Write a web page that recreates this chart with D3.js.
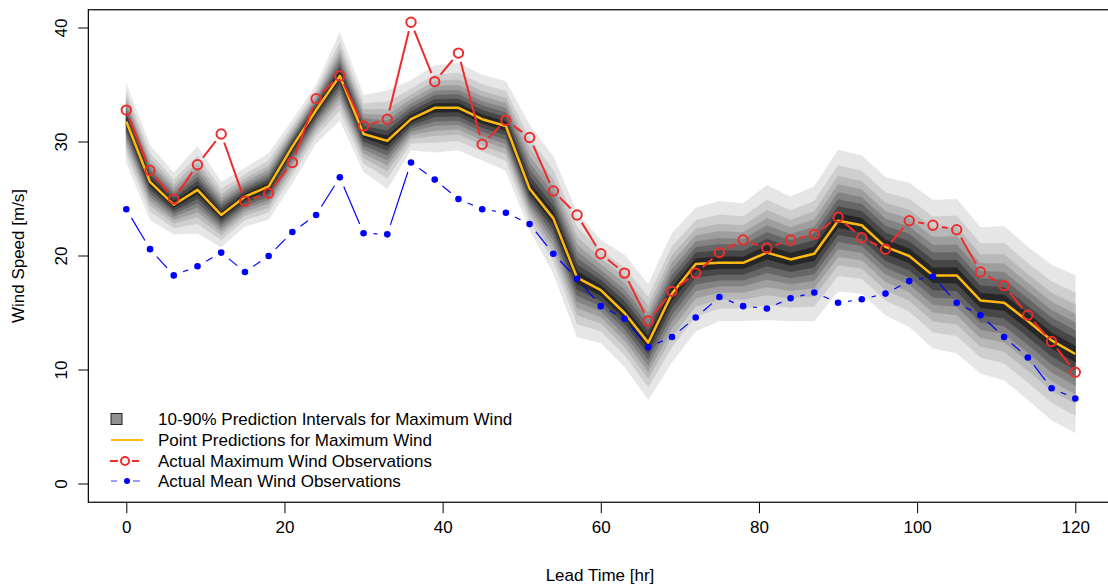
<!DOCTYPE html>
<html>
<head>
<meta charset="utf-8">
<script src="https://cdn.jsdelivr.net/npm/d3@7"></script>
<style>
    body { margin: 0; background: #fff; }
    text { font-family: "Liberation Sans", Arial, sans-serif; fill: #000; }
</style>
</head>
<body>
<svg id="chart" width="1108" height="588"></svg>
<script>
// Lead times [hr]
const leadTime = [0, 3, 6, 9, 12, 15, 18, 21, 24, 27, 30, 33, 36, 39, 42, 45, 48, 51, 54, 57,
    60, 63, 66, 69, 72, 75, 78, 81, 84, 87, 90, 93, 96, 99, 102, 105, 108, 111, 114, 117, 120];

// Point predictions for maximum wind (median)
const predMax = [31.8, 26.5, 24.5, 25.8, 23.6, 25.2, 26.1, 29.6, 32.8, 35.8, 30.7, 30.1, 32.0, 33.0,
    33.0, 32.0, 31.4, 25.9, 23.3, 18.1, 17.0, 15.0, 12.4, 16.7, 19.3, 19.4, 19.4, 20.3, 19.7, 20.2,
    23.1, 22.7, 20.8, 20.0, 18.3, 18.3, 16.1, 15.9, 14.3, 12.6, 11.4];

// 90% and 10% quantiles (outer edges of the shaded intervals)
const q90 = [35.1, 29.7, 27.3, 29.6, 26.5, 27.7, 29.0, 31.9, 35.0, 39.6, 34.1, 34.5, 35.4, 36.7,
    36.9, 35.9, 35.3, 31.5, 28.7, 23.8, 21.4, 20.1, 17.5, 22.0, 24.2, 24.8, 24.6, 26.2, 25.2, 26.1,
    29.3, 28.8, 26.9, 26.4, 24.9, 25.0, 22.5, 22.6, 20.8, 19.2, 18.3];
const q10 = [28.2, 23.2, 21.9, 22.0, 20.8, 22.6, 23.2, 26.4, 29.9, 31.9, 27.4, 25.9, 29.3, 29.1,
    29.3, 28.4, 27.5, 22.3, 18.5, 12.9, 12.4, 10.3, 7.4, 10.7, 13.4, 14.3, 14.3, 14.4, 14.3, 14.3,
    16.9, 16.7, 14.8, 13.8, 11.9, 11.5, 9.7, 9.1, 7.4, 5.6, 4.5];

// Relative width of each nested band (outer 10-90 ... inner 45-55) and its grey
const bandWidth = [1, 0.78, 0.63, 0.51, 0.40, 0.30, 0.20, 0.10];
const bandGrey = ['#e6e6e6', '#cfcfcf', '#b8b8b8', '#9e9e9e', '#838383', '#666666', '#474747', '#262626'];

// Observations
const maxObs = [32.8, 27.5, 25.0, 28.0, 30.7, 24.8, 25.5, 28.2, 33.8, 35.8, 31.4, 32.0, 40.5, 35.3,
    37.8, 29.8, 31.9, 30.4, 25.7, 23.6, 20.2, 18.5, 14.3, 16.9, 18.5, 20.3, 21.4, 20.7, 21.4, 21.9,
    23.4, 21.6, 20.6, 23.1, 22.7, 22.3, 18.6, 17.4, 14.8, 12.5, 9.8];
const meanObs = [24.1, 20.6, 18.3, 19.1, 20.3, 18.6, 20.0, 22.1, 23.6, 26.9, 22.0, 21.9, 28.2, 26.7,
    25.0, 24.1, 23.8, 22.8, 20.2, 18.0, 15.6, 14.5, 12.0, 12.9, 14.6, 16.4, 15.6, 15.4, 16.3, 16.8,
    15.9, 16.2, 16.7, 17.8, 18.2, 15.9, 14.8, 12.9, 11.1, 8.4, 7.5];

const xTicks = [0, 20, 40, 60, 80, 100, 120];
const yTicks = [0, 10, 20, 30, 40];
const legendLabels = ['10-90% Prediction Intervals for Maximum Wind', 'Point Predictions for Maximum Wind',
    'Actual Maximum Wind Observations', 'Actual Mean Wind Observations'];

const colPred = '#ffb90f', colMax = '#ee2c2c', colMean = '#0000ff';
const fontSize = 17;

const svg = d3.select('#chart');

const x = d3.scaleLinear().domain([0, 120]).range([126.3, 1075.3]);
const y = d3.scaleLinear().domain([0, 40]).range([484, 28]);

// Plot region limits (R style 4% padding)
const xLim = [-4.8, 124.8], yLim = [-1.6, 41.6];

// Shaded prediction intervals, drawn from the outside in
const band = d3.area()
    .x(d => x(d.t))
    .y0(d => y(d.lo))
    .y1(d => y(d.hi));

bandWidth.forEach((w, k) => {
    const pts = leadTime.map((t, i) => ({
        t: t,
        lo: predMax[i] - w * (predMax[i] - q10[i]),
        hi: predMax[i] + w * (q90[i] - predMax[i])
    }));
    svg.append('path')
        .attr('d', band(pts))
        .attr('fill', bandGrey[k])
        .attr('stroke', bandGrey[k])
        .attr('stroke-width', 0.5);
});

// Point predictions
svg.append('path')
    .datum(leadTime.map((t, i) => [x(t), y(predMax[i])]))
    .attr('d', d3.line())
    .attr('fill', 'none')
    .attr('stroke', colPred)
    .attr('stroke-width', 2.5)
    .attr('stroke-linejoin', 'round');

// R type="b": segments stop short of each point
function gappedSegments(vals, gap) {
    let segs = [];
    for (let i = 0; i < vals.length - 1; i++) {
        const x0 = x(leadTime[i]), y0 = y(vals[i]);
        const x1 = x(leadTime[i + 1]), y1 = y(vals[i + 1]);
        const len = Math.hypot(x1 - x0, y1 - y0);
        if (len <= 2 * gap) continue;
        const ux = (x1 - x0) / len, uy = (y1 - y0) / len;
        segs.push([x0 + ux * gap, y0 + uy * gap, x1 - ux * gap, y1 - uy * gap]);
    }
    return segs;
}

// Mean observations (blue)
svg.append('g').selectAll('line')
    .data(gappedSegments(meanObs, 10))
    .join('line')
        .attr('x1', d => d[0]).attr('y1', d => d[1])
        .attr('x2', d => d[2]).attr('y2', d => d[3])
        .attr('stroke', colMean)
        .attr('stroke-width', 1.2);

svg.append('g').selectAll('circle')
    .data(meanObs)
    .join('circle')
        .attr('cx', (d, i) => x(leadTime[i]))
        .attr('cy', d => y(d))
        .attr('r', 3.3)
        .attr('fill', colMean);

// Max observations (red)
svg.append('g').selectAll('line')
    .data(gappedSegments(maxObs, 9))
    .join('line')
        .attr('x1', d => d[0]).attr('y1', d => d[1])
        .attr('x2', d => d[2]).attr('y2', d => d[3])
        .attr('stroke', colMax)
        .attr('stroke-width', 2);

svg.append('g').selectAll('circle')
    .data(maxObs)
    .join('circle')
        .attr('cx', (d, i) => x(leadTime[i]))
        .attr('cy', d => y(d))
        .attr('r', 4.7)
        .attr('fill', 'none')
        .attr('stroke', colMax)
        .attr('stroke-width', 2);

// Box around plot region
svg.append('rect')
    .attr('x', x(xLim[0]))
    .attr('y', y(yLim[1]))
    .attr('width', x(xLim[1]) - x(xLim[0]))
    .attr('height', y(yLim[0]) - y(yLim[1]))
    .attr('fill', 'none')
    .attr('stroke', '#000')
    .attr('stroke-width', 1.2);

// Axes
const xAxis = d3.axisBottom(x).tickValues(xTicks).tickSize(11).tickPadding(8).tickSizeOuter(0);
const xAxisG = svg.append('g')
    .attr('transform', `translate(0,${y(yLim[0])})`)
    .call(xAxis);
xAxisG.select('.domain').remove();
xAxisG.selectAll('text').attr('font-size', fontSize).attr('font-family', '"Liberation Sans", Arial, sans-serif');

const yAxis = d3.axisLeft(y).tickValues(yTicks).tickSize(10).tickSizeOuter(0);
const yAxisG = svg.append('g')
    .attr('transform', `translate(${x(xLim[0])},0)`)
    .call(yAxis);
yAxisG.select('.domain').remove();
yAxisG.selectAll('text')
    .attr('font-size', fontSize)
    .attr('font-family', '"Liberation Sans", Arial, sans-serif')
    .attr('x', null).attr('dy', null)
    .attr('text-anchor', 'middle')
    .attr('transform', d => `translate(${-27},${y(d)}) rotate(-90) translate(0,6)`)
    .attr('y', 0);
yAxisG.selectAll('.tick').attr('transform', null);
yAxisG.selectAll('.tick line').attr('transform', d => `translate(0,${y(d)})`);

// Axis titles
svg.append('text')
    .attr('x', 600).attr('y', 581)
    .attr('text-anchor', 'middle')
    .attr('font-size', fontSize)
    .text('Lead Time [hr]');

svg.append('text')
    .attr('transform', 'translate(24,256) rotate(-90)')
    .attr('text-anchor', 'middle')
    .attr('font-size', fontSize)
    .text('Wind Speed [m/s]');

// Legend
const legend = svg.append('g');
const rowY = [419, 440, 461, 481];

legend.selectAll('text')
    .data(legendLabels)
    .join('text')
        .attr('x', 158)
        .attr('y', (d, i) => rowY[i] + 6)
        .attr('font-size', fontSize)
        .text(d => d);

legend.append('rect')
    .attr('x', 111).attr('y', rowY[0] - 5.5)
    .attr('width', 11).attr('height', 11)
    .attr('fill', '#8f8f8f')
    .attr('stroke', '#222')
    .attr('stroke-width', 1);

legend.append('line')
    .attr('x1', 111).attr('x2', 143)
    .attr('y1', rowY[1]).attr('y2', rowY[1])
    .attr('stroke', colPred).attr('stroke-width', 2);

[[110, 118], [132, 139]].forEach(s => {
    legend.append('line')
        .attr('x1', s[0]).attr('x2', s[1])
        .attr('y1', rowY[2]).attr('y2', rowY[2])
        .attr('stroke', colMax).attr('stroke-width', 2);
});
legend.append('circle')
    .attr('cx', 125).attr('cy', rowY[2]).attr('r', 4)
    .attr('fill', 'none').attr('stroke', colMax).attr('stroke-width', 2);

[[111, 117], [133, 140]].forEach(s => {
    legend.append('line')
        .attr('x1', s[0]).attr('x2', s[1])
        .attr('y1', rowY[3]).attr('y2', rowY[3])
        .attr('stroke', '#5b5bff').attr('stroke-width', 1.2);
});
legend.append('circle')
    .attr('cx', 127).attr('cy', rowY[3]).attr('r', 3)
    .attr('fill', colMean);
</script>
</body>
</html>
